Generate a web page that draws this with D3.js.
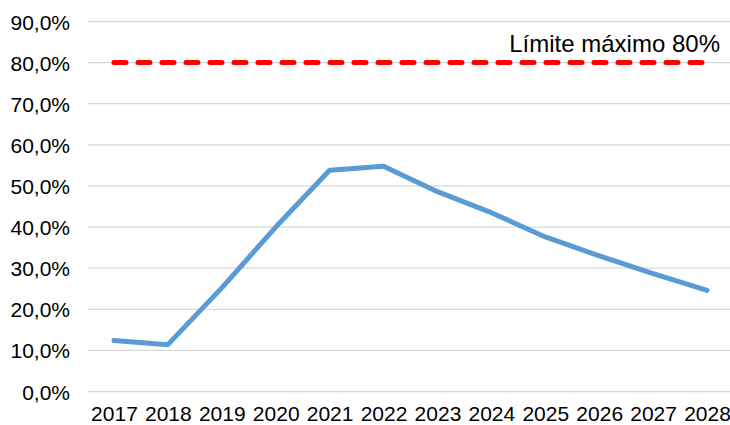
<!DOCTYPE html>
<html><head><meta charset="utf-8">
<script src="https://cdn.jsdelivr.net/npm/d3@7"></script>
<style>html,body{margin:0;padding:0;background:#fff;}svg{display:block;}</style>
</head><body>
<script>
const years = ["2017","2018","2019","2020","2021","2022","2023","2024","2025","2026","2027","2028"];
const values = [0.124, 0.114, 0.252, 0.400, 0.538, 0.548, 0.486, 0.435, 0.376, 0.330, 0.287, 0.246];
const limitValues = [0.8,0.8,0.8,0.8,0.8,0.8,0.8,0.8,0.8,0.8,0.8,0.8];
const yTicks = [0,0.1,0.2,0.3,0.4,0.5,0.6,0.7,0.8,0.9];
const limitLabel = "Límite máximo 80%";

const W = 730, H = 425;
const svg = d3.select("body").append("svg").attr("width", W).attr("height", H);
const font = "'Liberation Sans', Arial, sans-serif";

const x = d3.scalePoint().domain(years).range([87, 734]).padding(0.5);
const y = d3.scaleLinear().domain([0, 0.9]).range([391.5, 21.5]);

// gridlines
svg.append("g").selectAll("line").data(yTicks).join("line")
  .attr("x1", 88).attr("x2", 730)
  .attr("y1", d => y(d)).attr("y2", d => y(d))
  .attr("stroke", "#d9d9d9").attr("stroke-width", 1.3);

// y axis labels
const fmt = d => (d*100).toFixed(1).replace(".", ",") + "%";
const yAxis = d3.axisLeft(y).tickValues(yTicks).tickFormat(fmt).tickSize(0).tickPadding(0);
const ya = svg.append("g").attr("transform", "translate(70,0)").call(yAxis);
ya.select(".domain").remove();
ya.selectAll("text").attr("font-family", font).attr("font-size", 21).attr("fill", "#000").attr("dy", "0.36em");

// x axis labels
const xAxis = d3.axisBottom(x).tickSize(0).tickPadding(0);
const xa = svg.append("g").attr("transform", "translate(0,406)").call(xAxis);
xa.select(".domain").remove();
xa.selectAll("text").attr("font-family", font).attr("font-size", 21).attr("fill", "#000").attr("dy", "0.71em");

// limit dashed line
const line = d3.line().x((d,i) => x(years[i])).y(d => y(d));
svg.append("path").datum(limitValues).attr("d", line)
  .attr("fill", "none").attr("stroke", "#ff0000").attr("stroke-width", 5)
  .attr("stroke-linecap", "round").attr("stroke-dasharray", "12,12");

// main series
svg.append("path").datum(values).attr("d", line)
  .attr("fill", "none").attr("stroke", "#5b9bd5").attr("stroke-width", 5)
  .attr("stroke-linecap", "round").attr("stroke-linejoin", "round");

// annotation
svg.append("text").attr("x", 720).attr("y", 52).attr("text-anchor", "end")
  .attr("font-family", font).attr("font-size", 24).attr("fill", "#000").text(limitLabel);
</script>
</body></html>
